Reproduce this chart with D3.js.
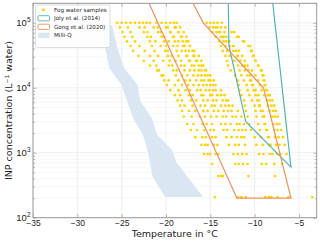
<!DOCTYPE html>
<html>
<head>
<meta charset="utf-8">
<script src="https://cdn.jsdelivr.net/npm/d3@7"></script>
<style>
  body { margin: 0; background: #fff; }
  svg { display: block; font-family: "DejaVu Sans", sans-serif; }
</style>
</head>
<body>
<div id="chart"></div>
<script>
// concentration steps shared by the fog water spectra (L^-1)
const levels = [100000, 85000, 72000, 61000, 52000, 44000, 37000, 31000, 26000, 22000,
  18500, 15500, 13000, 11000, 9200, 7700, 6400, 5300, 4400, 3600,
  2770, 2240, 1740, 1320, 957, 671, 438, 208];

// freezing temperature of each sample at each level (null = no point)
const fogSamples = [
  [-25.5,-25.2,-24.9,-24.7,-24.4,-24.0,-23.7,-23.1,-22.5,-21.8,-21.0,-20.5,-20.2,-19.9,-19.5,-19.0,-18.7,-18.4,-18.2,-18.0,-17.6,-17.2,-16.7,-16.0,-15.7,-14.8,null,-14.5],
  [-24.5,-24.3,-24.0,-23.8,-23.5,-23.0,-22.4,-21.8,-21.4,-21.1,-20.8,-20.3,-19.7,-19.0,-18.6,-18.4,-18.2,-17.9,-17.4,-17.1,-16.9,-16.5,-15.9,-15.6,-15.3,null,-14.1,null],
  [-23.5,-23.0,-22.5,-22.1,-21.8,-21.6,-21.3,-20.9,-20.3,-19.7,-19.2,-18.9,-18.6,-18.2,-17.8,-17.4,-17.2,-17.0,-16.7,-16.2,-15.9,-15.7,-15.5,-15.3,-15.0,null,-13.8,null],
  [-22.6,-22.4,-22.1,-21.7,-21.2,-20.6,-20.1,-19.8,-19.6,-19.3,-18.8,-18.2,-17.8,-17.5,-17.3,-17.0,-16.6,-16.1,-15.8,-15.6,-15.4,-15.0,-14.8,-14.6,-14.4,null,-13.6,null],
  [-21.8,-21.4,-20.9,-20.5,-20.2,-20.0,-19.8,-19.4,-18.9,-18.3,-17.9,-17.6,-17.3,-16.9,-16.5,-16.0,-15.8,-15.6,-15.3,-14.9,-14.8,-14.6,-14.4,-14.2,-14.1,null,null,null],
  [-21.1,-20.9,-20.6,-20.2,-19.7,-19.2,-18.8,-18.6,-18.3,-17.9,-17.3,-16.9,-16.6,-16.3,-16.1,-15.8,-15.3,-14.8,-14.6,-14.3,-13.8,-13.5,-13.2,-12.9,-12.4,-12.2,null,-11.9],
  [-20.5,-20.0,-19.5,-19.2,-19.0,-18.7,-18.2,-17.7,-17.4,-17.1,-16.8,-16.4,-16.0,-15.8,-15.5,-15.0,-14.7,-14.5,-14.1,-13.6,-13.3,-13.1,-12.6,-12.2,-11.9,-11.8,null,-11.5],
  [-20.0,-19.8,-19.5,-19.1,-18.6,-18.1,-17.8,-17.6,-17.3,-16.8,-16.3,-16.0,-15.7,-15.4,-15.1,-14.8,-14.3,-13.8,-13.5,-13.2,-12.7,-12.3,-12.0,-11.8,-11.4,-11.3,null,-11.0],
  [-19.5,-19.0,-18.6,-18.3,-18.1,-17.9,-17.4,-16.9,-16.6,-16.3,-16.0,-15.6,-15.2,-15.0,-14.7,-14.2,-13.6,-13.3,-13.0,-12.5,-12.0,-11.8,-11.5,-11.1,-10.9,-10.8,-10.7,null],
  [-19.1,-18.9,-18.6,-18.2,-17.7,-17.3,-17.0,-16.8,-16.5,-16.0,-15.6,-15.3,-15.0,-14.7,-14.4,-13.8,-13.2,-12.9,-12.6,-12.1,-11.7,-11.4,-11.2,null,null,null,null,null],
  [-18.8,-18.4,-18.0,-17.7,-17.5,-17.3,-16.8,-16.3,-16.0,-15.8,-15.5,-15.0,-14.6,-14.4,-13.8,-13.4,-13.0,-12.5,-11.9,-11.5,-11.2,-11.0,null,null,null,null,null,null],
  [-15.4,-15.1,-14.8,-14.4,-14.0,-13.8,-13.6,-13.3,-13.1,-13.0,-12.7,-12.2,-11.9,-11.8,-11.7,-11.5,-11.2,-11.1,-11.0,-10.8,-10.6,-10.4,-10.0,-9.8,-9.5,-9.2,null,-8.8],
  [-15.0,-14.7,-14.3,-13.8,-13.5,-13.3,-13.1,-12.8,-12.3,-11.9,-11.7,-11.5,-11.2,-10.9,-10.8,-10.6,-10.3,-10.0,-9.9,-9.8,-9.6,-9.4,-9.3,-9.1,-9.0,-8.7,null,-8.4],
  [-14.6,-14.2,-13.9,-13.5,-12.9,-12.4,-12.1,-11.9,-11.6,-11.1,-10.7,-10.5,-10.4,-10.2,-9.9,-9.6,-9.5,-9.4,-9.1,-8.9,-8.8,-8.7,-8.5,-8.4,-8.3,null,null,-8.1],
  [-14.2,-13.8,-13.4,-13.2,-12.9,-12.4,-11.8,-11.4,-11.1,-10.8,-10.3,-9.9,-9.6,-9.4,-9.2,-8.9,-8.6,-8.5,-8.3,-8.0,-7.9,-7.8,-7.7,-7.6,-7.5,null,null,-7.4],
  [-13.7,-13.3,-12.6,-12.0,-11.3,-10.5,-10.3,-10.1,-9.9,-9.6,-9.2,-9.0,-8.9,-8.8,-8.7,-8.5,-8.3,-8.1,-7.9,-7.7,-7.5,-7.4,-7.3,-7.2,-7.1,-6.9,null,-6.2],
  [null,-14.4,-14.0,-13.6,-13.2,-12.8,-12.4,-12.0,-11.7,-11.4,-11.1,-10.8,-10.5,-10.3,-10.1,-9.9,-9.7,-9.5,-9.3,-9.1,-8.9,-8.6,-8.4,-8.2,-8.0,-7.8,-7.7,null],
  [null,null,-12.3,-11.8,-11.2,-10.7,-10.4,-10.2,-9.9,-9.6,-9.3,-9.1,-9.0,-8.9,-8.6,-8.3,-8.0,-7.8,-7.6,-7.4,-7.2,-7.0,-6.8,-6.6,-6.4,null,null,null]
];

// extra single points [T, conc]
const extraDots = [[-25.0, 100000], [-24.0, 100000], [-23.0, 100000], [-22.2, 100000], [-3.5, 208]];

// literature ranges [T, conc]
const jolyPoly = [[-13.0, 4e5], [-12.9, 45000], [-11.0, 3000], [-5.9, 600], [-8.2, 4e5]];
const gongPoly = [[-22.9, 4e5], [-12.0, 200], [-5.9, 200], [-9.0, 10000], [-15.8, 100000], [-18.1, 4e5]];

// Milli-Q blank envelope [T, conc], top to bottom
const milliQCold = [[-27.3, 92000], [-26.8, 38000], [-26.4, 20000], [-25.0, 11000], [-24.4, 6300],
  [-23.7, 3400], [-22.6, 1900], [-22.1, 1100], [-21.8, 700], [-21.5, 425], [-20.1, 208]];
const milliQWarm = [[-26.1, 92000], [-25.4, 38000], [-24.7, 20000], [-23.2, 11000], [-22.9, 6300],
  [-21.6, 3400], [-21.0, 1900], [-19.3, 1100], [-18.8, 700], [-15.8, 208]];

const xTicks = [-35, -30, -25, -20, -15, -10, -5];
const yMajor = [1e2, 1e3, 1e4, 1e5];

const width = 320, height = 242;
const x = d3.scaleLinear().domain([-35, -3]).range([33, 316.7]);
const y = d3.scaleLog().domain([100, 2e5]).range([217.7, 3.3]);
const [x0, x1] = x.range(), [y0, y1] = y.range();

const yMinor = y.ticks().filter(d => !yMajor.includes(d));
const mqColor = "#dae7f3";

const svg = d3.select("#chart").append("svg")
  .attr("width", width).attr("height", height)
  .attr("viewBox", [0, 0, width, height]);

svg.append("defs").append("clipPath").attr("id", "plot")
  .append("rect").attr("x", x0).attr("y", y1).attr("width", x1 - x0).attr("height", y0 - y1);

// grid
const grid = svg.append("g").attr("stroke-width", 0.6);
grid.selectAll(".gy2").data(yMinor).join("line")
  .attr("x1", x0).attr("x2", x1).attr("y1", d => y(d)).attr("y2", d => y(d)).attr("stroke", "#f0f0f0");
grid.selectAll(".gy").data(yMajor).join("line")
  .attr("x1", x0).attr("x2", x1).attr("y1", d => y(d)).attr("y2", d => y(d)).attr("stroke", "#e4e4e4");
grid.selectAll(".gx").data(xTicks).join("line")
  .attr("y1", y1).attr("y2", y0).attr("x1", d => x(d)).attr("x2", d => x(d)).attr("stroke", "#e4e4e4");

const plot = svg.append("g").attr("clip-path", "url(#plot)");
const poly = d3.line().x(d => x(d[0])).y(d => y(d[1]));

// Milli-Q
plot.append("path")
  .attr("d", poly(milliQCold.concat(milliQWarm.slice().reverse())) + "Z")
  .attr("fill", mqColor);

// fog water samples
const fogPoints = fogSamples.flatMap(s => s.map((t, i) => [t, levels[i]]).filter(d => d[0] != null))
  .concat(extraDots);
plot.append("g").selectAll("circle").data(fogPoints).join("circle")
  .attr("cx", d => x(d[0])).attr("cy", d => y(d[1])).attr("r", 1.35)
  .attr("fill", "#ffd200");

// literature polygons
plot.append("path").attr("d", poly(jolyPoly) + "Z")
  .attr("fill", "none").attr("stroke", "#52b3b3").attr("stroke-width", 1.2);
plot.append("path").attr("d", poly(gongPoly) + "Z")
  .attr("fill", "none").attr("stroke", "#ef8f5e").attr("stroke-width", 1.2);

// axes
const tickCol = "#999";
const styleAxis = g => {
  g.select(".domain").remove();
  g.selectAll(".tick line").attr("stroke", tickCol).attr("stroke-width", 0.7);
  g.selectAll(".tick text").attr("fill", "#222").attr("font-size", 8.5);
};
svg.append("g").attr("transform", `translate(0,${y0})`)
  .call(d3.axisBottom(x).tickValues(xTicks).tickSize(-3.5).tickPadding(2).tickFormat(d3.format("")))
  .call(styleAxis);
svg.append("g").attr("transform", `translate(0,${y1})`)
  .call(d3.axisTop(x).tickValues(xTicks).tickSize(-3.5).tickFormat(""))
  .call(styleAxis);

const yl = svg.append("g").attr("transform", `translate(${x0},0)`)
  .call(d3.axisLeft(y).tickValues(yMajor).tickSize(-3.5).tickPadding(2.5))
  .call(styleAxis);
yl.selectAll(".tick text").text(null).attr("font-size", 9.5)
  .call(t => {
    t.append("tspan").text("10");
    t.append("tspan").attr("dy", -4.5).attr("font-size", 6.5).text(d => Math.round(Math.log10(d)));
  });
svg.append("g").attr("transform", `translate(${x0},0)`)
  .call(d3.axisLeft(y).tickValues(yMinor).tickSize(-2).tickFormat(""))
  .call(styleAxis);
svg.append("g").attr("transform", `translate(${x1},0)`)
  .call(d3.axisRight(y).tickValues(yMajor).tickSize(-3.5).tickFormat(""))
  .call(styleAxis);
svg.append("g").attr("transform", `translate(${x1},0)`)
  .call(d3.axisRight(y).tickValues(yMinor).tickSize(-2).tickFormat(""))
  .call(styleAxis);

svg.append("rect").attr("x", x0).attr("y", y1).attr("width", x1 - x0).attr("height", y0 - y1)
  .attr("fill", "none").attr("stroke", tickCol).attr("stroke-width", 1);

// axis labels
svg.append("text").attr("x", (x0 + x1) / 2).attr("y", 237)
  .attr("text-anchor", "middle").attr("font-size", 9.5).attr("fill", "#222")
  .text("Temperature in °C");
svg.append("text").attr("transform", `translate(12,${(y0 + y1) / 2}) rotate(-90)`)
  .attr("text-anchor", "middle").attr("font-size", 9.5).attr("fill", "#222")
  .text("INP concentration (L⁻¹ water)");

// legend
const lg = svg.append("g");
lg.append("rect").attr("x", 35.5).attr("y", 5).attr("width", 74.5).attr("height", 42.5).attr("rx", 2)
  .attr("fill", "#fff").attr("fill-opacity", 0.85).attr("stroke", "#d0d0d0").attr("stroke-width", 0.7);
const items = [
  { label: "Fog water samples", kind: "dot" },
  { label: "Joly et al. (2014)", kind: "edge", color: "#52b3b3" },
  { label: "Gong et al. (2020)", kind: "edge", color: "#ef8f5e" },
  { label: "Milli-Q", kind: "fill", color: mqColor }
];
items.forEach((it, i) => {
  const cy = 9.8 + i * 8.5;
  if (it.kind === "dot") {
    lg.append("circle").attr("cx", 43.5).attr("cy", cy).attr("r", 1.6).attr("fill", "#ffd200");
  } else {
    lg.append("rect").attr("x", 38).attr("y", cy - 2.6).attr("width", 11.5).attr("height", 5.2).attr("rx", 0.8)
      .attr("fill", it.kind === "fill" ? it.color : "none")
      .attr("stroke", it.kind === "edge" ? it.color : "none").attr("stroke-width", 0.9);
  }
  lg.append("text").attr("x", 54).attr("y", cy).attr("dy", "0.35em")
    .attr("font-size", 5.6).attr("fill", "#222").text(it.label);
});
</script>
</body>
</html>
